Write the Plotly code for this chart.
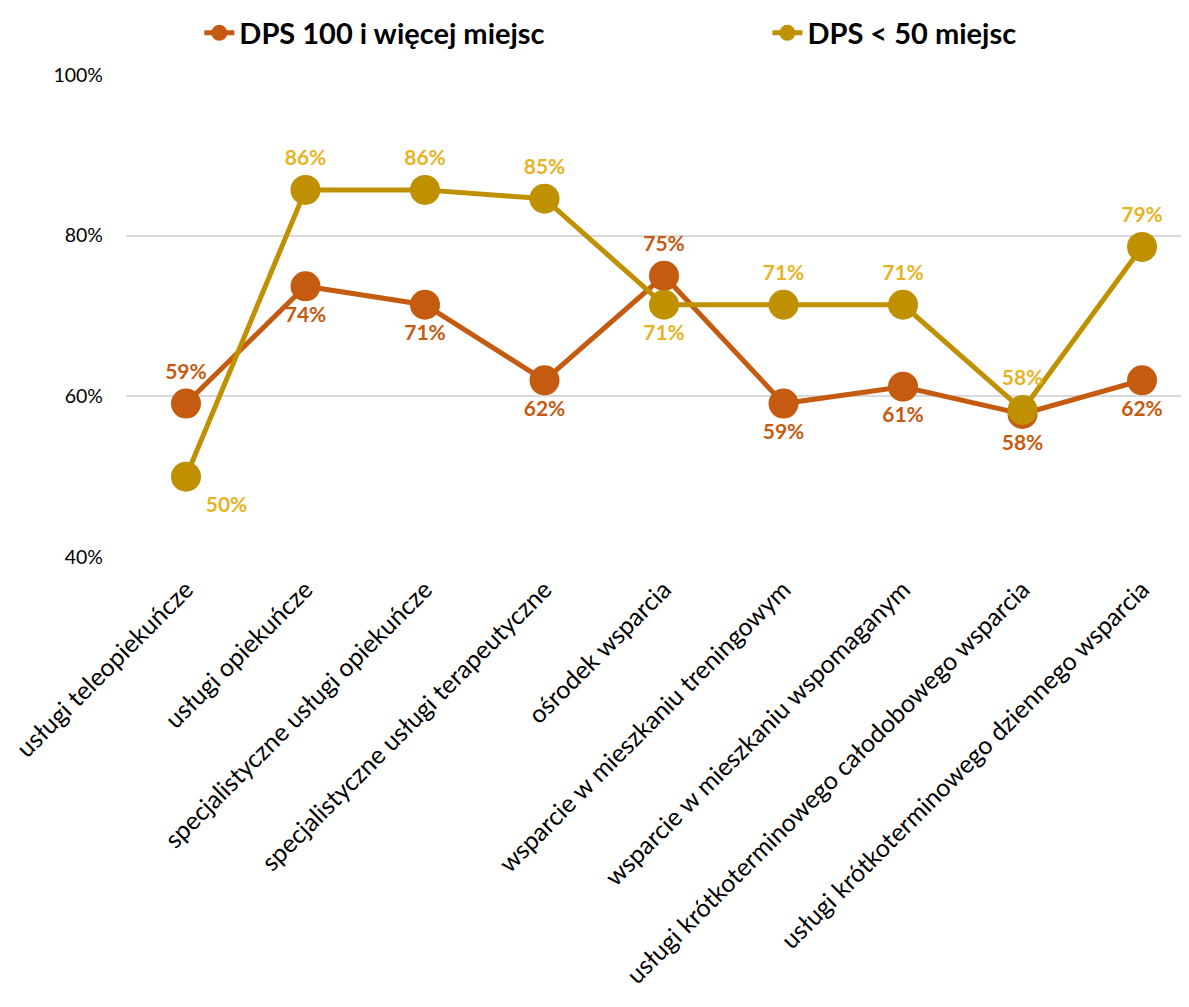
import plotly.graph_objects as go

categories = [
    "usługi teleopiekuńcze",
    "usługi opiekuńcze",
    "specjalistyczne usługi opiekuńcze",
    "specjalistyczne usługi terapeutyczne",
    "ośrodek wsparcia",
    "wsparcie w mieszkaniu treningowym",
    "wsparcie w mieszkaniu wspomaganym",
    "usługi krótkoterminowego całodobowego wsparcia",
    "usługi krótkoterminowego dziennego wsparcia",
]
dps_100 = [0.591, 0.737, 0.714, 0.620, 0.750, 0.591, 0.612, 0.578, 0.620]
dps_50 = [0.500, 0.857, 0.857, 0.846, 0.714, 0.714, 0.714, 0.583, 0.786]

pos_100 = ["top center", "bottom center", "bottom center", "bottom center", "top center",
           "bottom center", "bottom center", "bottom center", "bottom center"]
pos_50 = ["bottom right", "top center", "top center", "top center", "bottom center",
          "top center", "top center", "top center", "top center"]

orange = "#C55A11"
gold = "#BF9000"
gold_txt = "#E6B325"
tick_font = "Lato"

x = list(range(len(categories)))

fig = go.Figure()
fig.add_trace(go.Scatter(
    x=x, y=dps_100, name="DPS 100 i więcej miejsc",
    mode="lines+markers+text",
    line=dict(color=orange, width=5),
    marker=dict(size=30, color=orange),
    text=[f"{v:.0%}" for v in dps_100], textposition=pos_100,
    textfont=dict(family="Lato", size=21, color=orange, weight="bold"),
    cliponaxis=False, legend="legend",
))
fig.add_trace(go.Scatter(
    x=x, y=dps_50, name="DPS < 50 miejsc",
    mode="lines+markers+text",
    line=dict(color=gold, width=5),
    marker=dict(size=30, color=gold),
    text=[f"{v:.0%}" for v in dps_50], textposition=pos_50,
    textfont=dict(family="Lato", size=21, color=gold_txt, weight="bold"),
    cliponaxis=False, legend="legend2",
))

legend_font = dict(family="Lato", size=29, color="#000000", weight="bold")
fig.update_layout(
    width=1181, height=999,
    plot_bgcolor="white", paper_bgcolor="white",
    margin=dict(l=118, r=0, t=67, b=450, autoexpand=False),
    font=dict(family=tick_font, color="#000000"),
    showlegend=True,
    legend=dict(
        orientation="h", xref="container", x=0.162, xanchor="left",
        yref="container", y=0.975, yanchor="middle", font=legend_font,
    ),
    legend2=dict(
        orientation="h", xref="container", x=0.643, xanchor="left",
        yref="container", y=0.975, yanchor="middle", font=legend_font,
    ),
)
fig.update_xaxes(
    range=[-0.502, 8.393],
    tickmode="array", tickvals=x, ticktext=categories,
    tickangle=-45, tickfont=dict(family=tick_font, size=25, color="#000000"),
    ticklabelstandoff=12,
    showgrid=False, zeroline=False, showline=False, automargin=False,
)
fig.update_yaxes(
    range=[0.4, 1.0], tickvals=[0.4, 0.6, 0.8, 1.0], tickformat=".0%",
    tickfont=dict(family=tick_font, size=19.5, color="#000000"),
    ticklabelstandoff=22,
    gridcolor="#D9D9D9", gridwidth=1.5, zeroline=False, showline=False,
    automargin=False,
)

fig.write_html("out.html")
